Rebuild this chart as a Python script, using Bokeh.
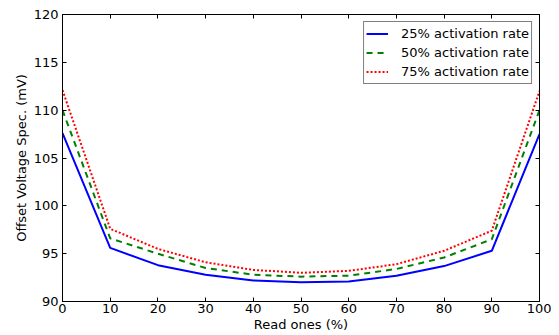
from bokeh.plotting import figure
from bokeh.models import LinearAxis, Range1d, FixedTicker, Legend, LegendItem, CustomJSTickFormatter
from bokeh.embed import file_html
from bokeh.resources import INLINE

read_ones = [0, 10, 20, 30, 40, 50, 60, 70, 80, 90, 100]
rate25 = [107.6, 95.6, 93.8, 92.8, 92.2, 92.0, 92.1, 92.7, 93.7, 95.3, 107.5]
rate50 = [110.0, 96.6, 95.0, 93.5, 92.8, 92.6, 92.7, 93.4, 94.6, 96.5, 110.0]
rate75 = [112.1, 97.6, 95.5, 94.1, 93.3, 93.0, 93.2, 93.9, 95.3, 97.4, 112.0]
series_labels = ["25% activation rate", "50% activation rate", "75% activation rate"]
x_ticks = [0, 10, 20, 30, 40, 50, 60, 70, 80, 90, 100]
y_ticks = [90, 95, 100, 105, 110, 115, 120]

FONT = "DejaVu Sans"
FS = "13px"

p = figure(width=551, height=335, output_backend="svg", toolbar_location=None,
           x_range=Range1d(0, 100), y_range=Range1d(90, 120),
           min_border_left=62, min_border_top=14, min_border_right=12, min_border_bottom=34)
p.outline_line_color = "black"
p.xgrid.visible = False
p.ygrid.visible = False
p.background_fill_color = "white"
p.border_fill_color = "white"

def style_axis(ax, ticks, show_labels=True):
    ax.ticker = FixedTicker(ticks=ticks)
    ax.major_tick_in = 4
    ax.major_tick_out = 0
    ax.minor_tick_line_color = None
    ax.axis_line_color = "black"
    ax.major_tick_line_color = "black"
    ax.major_label_text_font = FONT
    ax.major_label_text_color = "black"
    ax.axis_label_text_font = FONT
    ax.axis_label_text_font_style = "normal"
    ax.axis_label_text_font_size = FS
    ax.axis_label_text_color = "black"
    if show_labels:
        ax.major_label_text_font_size = FS
        ax.major_label_standoff = 3
    else:
        ax.formatter = CustomJSTickFormatter(code="return '';")
        ax.major_label_standoff = 0

style_axis(p.xaxis[0], x_ticks)
style_axis(p.yaxis[0], y_ticks)
p.xaxis[0].axis_label = "Read ones (%)"
p.xaxis[0].axis_label_standoff = 1
p.xaxis[0].major_label_standoff = 2
p.yaxis[0].axis_label = "Offset Voltage Spec. (mV)"
p.yaxis[0].axis_label_standoff = 2
p.yaxis[0].major_label_standoff = 4

top = LinearAxis()
style_axis(top, x_ticks, show_labels=False)
p.add_layout(top, "above")
right = LinearAxis()
style_axis(right, y_ticks, show_labels=False)
p.add_layout(right, "right")

r1 = p.line(read_ones, rate25, line_color="#0000ff", line_width=2)
r2 = p.line(read_ones, rate50, line_color="#008000", line_width=2, line_dash="6 5")
r3 = p.line(read_ones, rate75, line_color="#ff0000", line_width=2, line_dash="2 2")

legend = Legend(items=[LegendItem(label=series_labels[0], renderers=[r1]),
                       LegendItem(label=series_labels[1], renderers=[r2]),
                       LegendItem(label=series_labels[2], renderers=[r3])],
                location="top_right")
legend.border_line_color = "black"
legend.border_line_width = 1
legend.background_fill_alpha = 1
legend.label_text_font = FONT
legend.label_text_font_size = FS
legend.label_text_color = "black"
legend.padding = 2
legend.spacing = 0
legend.margin = 7
legend.glyph_width = 22
legend.glyph_height = 19
legend.label_height = 19
legend.label_standoff = 13
p.add_layout(legend)

open("out.html", "w").write(file_html(p, INLINE))
